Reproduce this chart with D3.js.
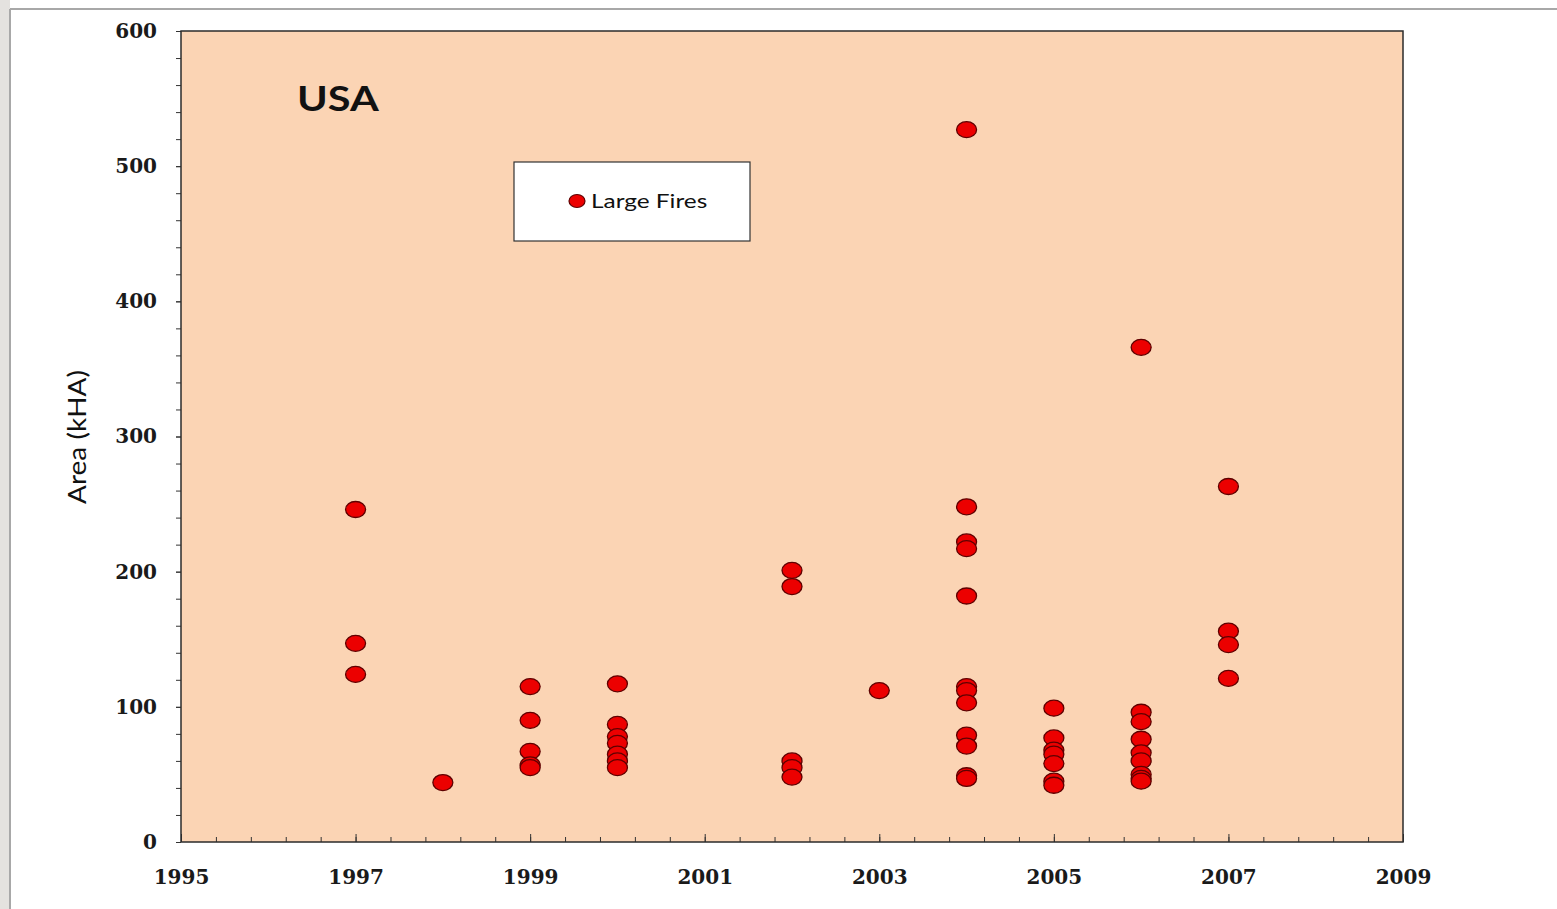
<!DOCTYPE html>
<html lang="en">
<head>
    <meta charset="UTF-8">
    <title>USA Large Fires</title>
    <script src="https://d3js.org/d3.v7.min.js"></script>
    <style>
        body {
            margin: 0;
            padding: 0;
            background: #ffffff;
        }
        svg {
            display: block;
        }
        .tick-label text {
            font-family: 'DejaVu Serif', serif;
            font-weight: bold;
            font-size: 20px;
            fill: #1a1a1a;
        }
    </style>
</head>
<body>
    <svg width="1557" height="909"></svg>

    <script>
        // data
        const fireYears = [
            1997, 1997, 1997,
            1998,
            1999, 1999, 1999, 1999, 1999,
            2000, 2000, 2000, 2000, 2000, 2000, 2000,
            2002, 2002, 2002, 2002, 2002,
            2003,
            2004, 2004, 2004, 2004, 2004, 2004, 2004, 2004, 2004, 2004, 2004, 2004,
            2005, 2005, 2005, 2005, 2005, 2005, 2005,
            2006, 2006, 2006, 2006, 2006, 2006, 2006, 2006, 2006,
            2007, 2007, 2007, 2007
        ];
        const fireAreas = [
            246, 147, 124,
            44,
            115, 90, 67, 57, 55,
            117, 87, 78, 73, 65, 60, 55,
            201, 189, 60, 55, 48,
            112,
            527, 248, 222, 217, 182, 115, 112, 103, 79, 71, 49, 47,
            99, 77, 68, 65, 58, 45, 42,
            366, 96, 89, 76, 66, 60, 50, 47, 45,
            263, 156, 146, 121
        ];
        const xTicks = [1995, 1997, 1999, 2001, 2003, 2005, 2007, 2009];
        const yTicks = [0, 100, 200, 300, 400, 500, 600];
        const seriesName = "Large Fires";
        const chartTitle = "USA";
        const yTitle = "Area (kHA)";

        const svg = d3.select("svg");

        // page frame
        svg.append("rect").attr("x", 0).attr("y", 0).attr("width", 10).attr("height", 909).attr("fill", "#e4e2df");
        svg.append("line").attr("x1", 10).attr("y1", 9).attr("x2", 1557).attr("y2", 9)
           .attr("stroke", "#a8a8a8").attr("stroke-width", 2);
        svg.append("line").attr("x1", 10).attr("y1", 9).attr("x2", 10).attr("y2", 909)
           .attr("stroke", "#a8a8a8").attr("stroke-width", 2);

        const plotL = 181, plotR = 1403, plotT = 31, plotB = 842;

        const xScale = d3.scaleLinear().domain([1995, 2009]).range([plotL, plotR]);
        const yScale = d3.scaleLinear().domain([0, 600]).range([plotB, plotT]);

        // plot area
        svg.append("rect")
           .attr("x", plotL).attr("y", plotT)
           .attr("width", plotR - plotL).attr("height", plotB - plotT)
           .attr("fill", "#fbd4b4");

        // minor ticks
        const yMinor = d3.range(0, 601, 20);
        svg.append("g")
           .attr("transform", `translate(${plotL},0)`)
           .call(d3.axisLeft(yScale).tickValues(yMinor).tickSize(5).tickSizeOuter(0).tickFormat(""))
           .call(g => g.select(".domain").remove())
           .selectAll("line").attr("stroke", "#333");

        const xMinor = d3.range(0, 36).map(i => 1995 + i * 0.4);
        svg.append("g")
           .attr("transform", `translate(0,${plotB})`)
           .call(d3.axisBottom(xScale).tickValues(xMinor).tickSize(-5).tickSizeOuter(0).tickFormat(""))
           .call(g => g.select(".domain").remove())
           .selectAll("line").attr("stroke", "#333");

        // major axes
        svg.append("g")
           .attr("class", "tick-label")
           .attr("transform", `translate(${plotL},0)`)
           .call(d3.axisLeft(yScale).tickValues(yTicks).tickSize(5).tickPadding(19).tickSizeOuter(0))
           .call(g => g.select(".domain").remove())
           .call(g => g.selectAll("line").attr("stroke", "#333"));

        svg.append("g")
           .attr("class", "tick-label")
           .attr("transform", `translate(0,${plotB})`)
           .call(d3.axisBottom(xScale).tickValues(xTicks).tickSize(-8).tickPadding(28)
                 .tickSizeOuter(0).tickFormat(d3.format("d")))
           .call(g => g.select(".domain").remove())
           .call(g => g.selectAll("line").attr("stroke", "#333"));

        // plot border
        svg.append("rect")
           .attr("x", plotL).attr("y", plotT)
           .attr("width", plotR - plotL).attr("height", plotB - plotT)
           .attr("fill", "none").attr("stroke", "#2b2b2b").attr("stroke-width", 1.5);

        // points
        const pts = fireYears.map((yr, i) => ({ year: yr, area: fireAreas[i] }));
        svg.append("g").selectAll("ellipse")
           .data(pts)
           .enter()
           .append("ellipse")
           .attr("cx", d => xScale(d.year))
           .attr("cy", d => yScale(d.area))
           .attr("rx", 10)
           .attr("ry", 8)
           .attr("fill", "#ec0000")
           .attr("stroke", "#5e0000")
           .attr("stroke-width", 1.3);

        // title (source text is stretched horizontally)
        svg.append("text")
           .attr("transform", "translate(297,111) scale(1.22,1)")
           .attr("font-family", "Lato, sans-serif")
           .attr("font-weight", "bold")
           .attr("font-size", 34)
           .attr("fill", "#111")
           .text(chartTitle);

        // y axis title
        svg.append("text")
           .attr("transform", "translate(86,437) rotate(-90) scale(1.12,1)")
           .attr("text-anchor", "middle")
           .attr("font-family", "Lato, sans-serif")
           .attr("font-size", 25)
           .attr("fill", "#111")
           .text(yTitle);

        // legend
        svg.append("rect")
           .attr("x", 514).attr("y", 162).attr("width", 236).attr("height", 79)
           .attr("fill", "#ffffff").attr("stroke", "#333").attr("stroke-width", 1.2);
        svg.append("ellipse")
           .attr("cx", 577).attr("cy", 201).attr("rx", 8).attr("ry", 6.5)
           .attr("fill", "#ec0000").attr("stroke", "#5e0000").attr("stroke-width", 1.2);
        svg.append("text")
           .attr("transform", "translate(591,208) scale(1.22,1)")
           .attr("font-family", "Lato, sans-serif")
           .attr("font-size", 20)
           .attr("fill", "#111")
           .text(seriesName);
    </script>
</body>
</html>
